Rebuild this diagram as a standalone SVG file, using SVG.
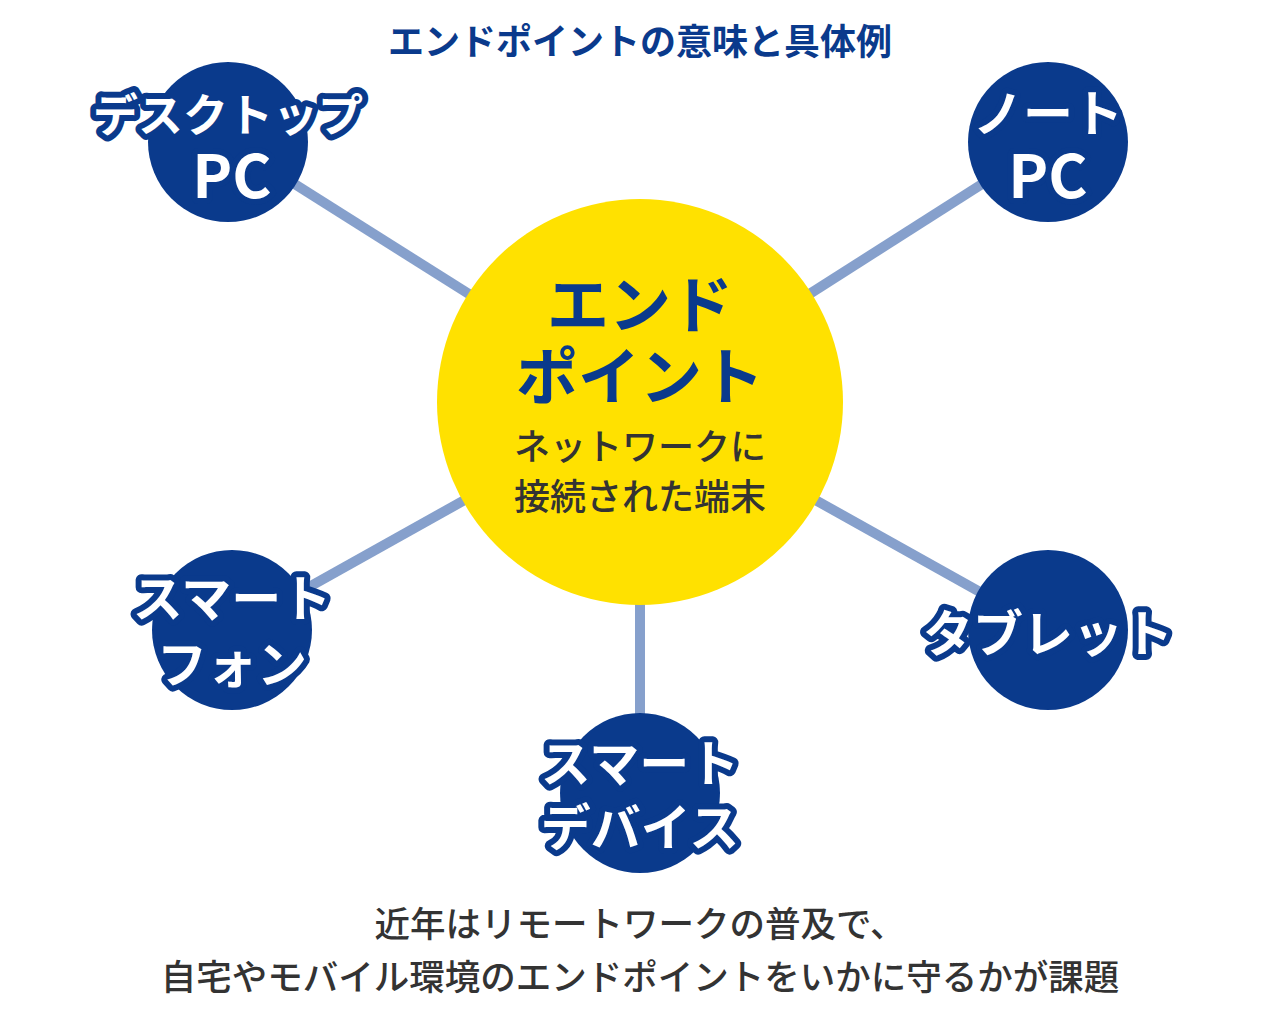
<svg xmlns="http://www.w3.org/2000/svg" width="1280" height="1015" viewBox="0 0 1280 1015">
<style>
.n{fill:#0a3a8c}
.t{font-family:"Noto Sans CJK JP","Liberation Sans",sans-serif;font-weight:bold;text-anchor:middle}
.w{fill:#fff;stroke:#0a3a8c;stroke-width:12;stroke-linejoin:round;paint-order:stroke;font-size:50px}
.c{fill:#333;font-size:35.5px;font-weight:500}
</style>
<rect width="1280" height="1015" fill="#fff"/>
<text class="t" x="640" y="55" font-size="36" fill="#0a3a8c">エンドポイントの意味と具体例</text>
<g id="connectors" stroke="#86a0cc" stroke-width="10">
<line x1="228" y1="142" x2="640" y2="402"/>
<line x1="1048" y1="142" x2="640" y2="402"/>
<line x1="232" y1="630" x2="640" y2="402"/>
<line x1="1048" y1="630" x2="640" y2="402"/>
<line x1="640" y1="793" x2="640" y2="402"/>
</g>
<g id="center">
<circle cx="640" cy="402" r="203" fill="#ffe100"/>
<text class="t" x="640" y="328" font-size="62" fill="#0a3a8c">エンド</text>
<text class="t" x="640" y="400" font-size="62" fill="#0a3a8c">ポイント</text>
<text class="t c" x="640" y="460" style="font-size:36px">ネットワークに</text>
<text class="t c" x="640" y="510" style="font-size:36px">接続された端末</text>
</g>
<g id="desktop"><circle class="n" cx="228" cy="142" r="80"/>
<text class="t w" x="228" y="132" style="font-size:45px">デスクトップ</text><text class="t w" x="232" y="198" style="font-size:60px">PC</text></g>
<g id="note"><circle class="n" cx="1048" cy="142" r="80"/>
<text class="t w" x="1048" y="132">ノート</text><text class="t w" x="1048" y="198" style="font-size:60px">PC</text></g>
<g id="phone"><circle class="n" cx="232" cy="630" r="80"/>
<text class="t w" x="232" y="617">スマート</text><text class="t w" x="232" y="683">フォン</text></g>
<g id="tablet"><circle class="n" cx="1048" cy="630" r="80"/>
<text class="t w" x="1048" y="652">タブレット</text></g>
<g id="device"><circle class="n" cx="640" cy="793" r="80"/>
<text class="t w" x="640" y="782">スマート</text><text class="t w" x="640" y="846">デバイス</text></g>
<text class="t c" x="640" y="937">近年はリモートワークの普及で、</text>
<text class="t c" x="640" y="990">自宅やモバイル環境のエンドポイントをいかに守るかが課題</text>
</svg>
